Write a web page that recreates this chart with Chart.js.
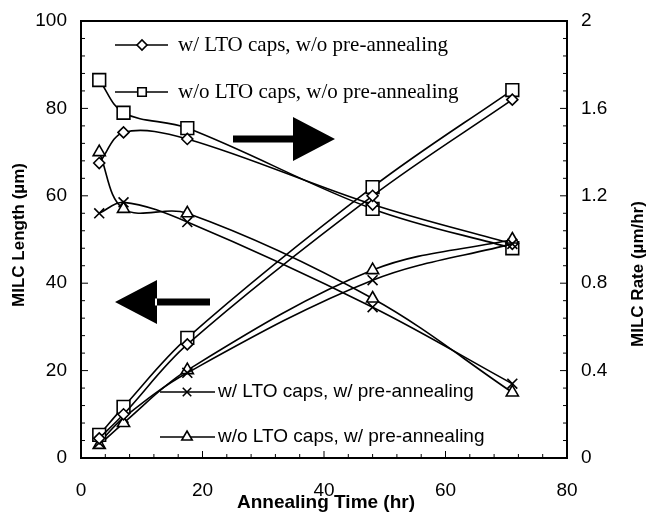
<!DOCTYPE html>
<html>
<head>
<meta charset="utf-8">
<script src="https://cdn.jsdelivr.net/npm/chart.js@4.4.1/dist/chart.umd.min.js"></script>
<style>
  body { margin: 0; background: #fff; }
  #wrap { width: 649px; height: 517px; }
</style>
</head>
<body>
<div id="wrap"><canvas id="milcChart" width="649" height="517"></canvas></div>
<script>
// annealing times (hr)
const hours = [3, 7, 17.5, 48, 71]

// MILC length (um), left axis
const lenLtoNoPre = [4.5, 10, 26, 60, 82]
const lenNoLtoNoPre = [5.3, 11.7, 27.5, 62, 84.2]
const lenLtoPre = [3.5, 9.2, 19.5, 40.7, 49]
const lenNoLtoPre = [3, 8, 20.1, 43, 50]

// MILC rate (um/hr), right axis
const rateLtoNoPre = [1.35, 1.49, 1.46, 1.16, 0.98]
const rateNoLtoNoPre = [1.73, 1.58, 1.51, 1.14, 0.96]
const rateLtoPre = [1.12, 1.17, 1.08, 0.69, 0.34]
const rateNoLtoPre = [1.40, 1.14, 1.12, 0.73, 0.30]

const seriesNames = [
    'w/ LTO caps, w/o pre-annealing',
    'w/o LTO caps, w/o pre-annealing',
    'w/ LTO caps, w/ pre-annealing',
    'w/o LTO caps, w/ pre-annealing'
]

const xTicks = [0, 20, 40, 60, 80]
const lenTicks = [0, 20, 40, 60, 80, 100]
const rateTicks = [0, 0.4, 0.8, 1.2, 1.6, 2]

const markers = [
    { pointStyle: 'rectRot', radius: 5.5 },
    { pointStyle: 'rect', radius: 9 },
    { pointStyle: 'crossRot', radius: 7 },
    { pointStyle: 'triangle', radius: 7 }
]

function toPoints(ys) {
    return hours.map((h, i) => ({ x: h, y: ys[i] }))
}

function makeSet(label, ys, axis, k) {
    return {
        label: label,
        data: toPoints(ys),
        yAxisID: axis,
        borderColor: '#000',
        borderWidth: 1.6,
        tension: 0.35,
        pointStyle: markers[k].pointStyle,
        pointRadius: markers[k].radius,
        pointBackgroundColor: '#fff',
        pointBorderColor: '#000',
        pointBorderWidth: 1.6,
        fill: false
    }
}

const datasets = [
    makeSet(seriesNames[0], lenLtoNoPre, 'yLen', 0),
    makeSet(seriesNames[1], lenNoLtoNoPre, 'yLen', 1),
    makeSet(seriesNames[2], lenLtoPre, 'yLen', 2),
    makeSet(seriesNames[3], lenNoLtoPre, 'yLen', 3),
    makeSet(seriesNames[0], rateLtoNoPre, 'yRate', 0),
    makeSet(seriesNames[1], rateNoLtoNoPre, 'yRate', 1),
    makeSet(seriesNames[2], rateLtoPre, 'yRate', 2),
    makeSet(seriesNames[3], rateNoLtoPre, 'yRate', 3)
]

const tickFont = { family: 'Liberation Sans, Arial', size: 19 }

function fixedTicks(list) {
    return (scale) => { scale.ticks = list.map(v => ({ value: v })) }
}

// fixed axis sizes so the plot box lands in the same place every time
function fitSide(width) {
    return (s) => {
        s.width = width
        s.paddingTop = 0
        s.paddingBottom = 0
    }
}

function fmt(v) {
    return String(Math.round(v * 10) / 10)
}

// frame, inward tick marks, axis titles, arrows and the in-plot legend
const decorations = {
    id: 'decorations',
    afterDraw(chart) {
        const ctx = chart.ctx
        const a = chart.chartArea
        const sx = chart.scales.x
        const sl = chart.scales.yLen
        const sr = chart.scales.yRate

        ctx.save()
        ctx.strokeStyle = '#000'
        ctx.lineWidth = 2
        ctx.strokeRect(a.left, a.top, a.right - a.left, a.bottom - a.top)

        ctx.lineWidth = 1
        ctx.beginPath()
        for (let v = 0; v <= 80; v += 4) {
            const px = sx.getPixelForValue(v)
            const len = v % 20 === 0 ? 7 : 4
            ctx.moveTo(px, a.bottom); ctx.lineTo(px, a.bottom - len)
        }
        for (let v = 0; v <= 100; v += 4) {
            const py = sl.getPixelForValue(v)
            const len = v % 20 === 0 ? 7 : 4
            ctx.moveTo(a.left, py); ctx.lineTo(a.left + len, py)
        }
        for (let i = 0; i <= 25; i++) {
            const py = sr.getPixelForValue(i * 0.08)
            const len = i % 5 === 0 ? 7 : 4
            ctx.moveTo(a.right, py); ctx.lineTo(a.right - len, py)
        }
        ctx.stroke()

        // axis titles
        ctx.fillStyle = '#000'
        ctx.textAlign = 'center'
        ctx.textBaseline = 'middle'
        ctx.font = 'bold 19px Liberation Sans, Arial'
        ctx.fillText('Annealing Time (hr)', 326, 503)
        ctx.font = 'bold 17px Liberation Sans, Arial'
        ctx.save()
        ctx.translate(19, 235)
        ctx.rotate(-Math.PI / 2)
        ctx.fillText('MILC Length (\u00b5m)', 0, 0)
        ctx.restore()
        ctx.save()
        ctx.translate(638, 274)
        ctx.rotate(-Math.PI / 2)
        ctx.fillText('MILC Rate (\u00b5m/hr)', 0, 0)
        ctx.restore()

        // arrows pointing to each curve family's axis
        ctx.beginPath()
        ctx.rect(233, 135.5, 62, 7)
        ctx.moveTo(293, 117); ctx.lineTo(335, 139); ctx.lineTo(293, 161); ctx.closePath()
        ctx.rect(155, 298.5, 55, 7)
        ctx.moveTo(157, 280); ctx.lineTo(115, 302); ctx.lineTo(157, 324); ctx.closePath()
        ctx.fill()

        // legend
        const rows = [
            { y: 45, x0: 115, x1: 168, xm: 142, tx: 178, font: '21px Liberation Serif, Times New Roman' },
            { y: 92, x0: 115, x1: 168, xm: 142, tx: 178, font: '21px Liberation Serif, Times New Roman' },
            { y: 392, x0: 160, x1: 215, xm: 187, tx: 218, font: '19px Liberation Sans, Arial' },
            { y: 437, x0: 160, x1: 215, xm: 187, tx: 218, font: '19px Liberation Sans, Arial' }
        ]
        const legendRadius = [5, 6, 6, 6]
        rows.forEach((r, k) => {
            ctx.strokeStyle = '#000'
            ctx.lineWidth = 1.6
            ctx.beginPath()
            ctx.moveTo(r.x0, r.y); ctx.lineTo(r.x1, r.y)
            ctx.stroke()
            ctx.fillStyle = '#fff'
            Chart.helpers.drawPoint(ctx, {
                pointStyle: markers[k].pointStyle,
                radius: legendRadius[k],
                rotation: 0,
                borderWidth: 1.6
            }, r.xm, r.y)
            ctx.fillStyle = '#000'
            ctx.font = r.font
            ctx.textAlign = 'left'
            ctx.textBaseline = 'middle'
            ctx.fillText(seriesNames[k], r.tx, r.y)
        })
        ctx.restore()
    }
}

new Chart(document.getElementById('milcChart'), {
    type: 'line',
    data: { datasets: datasets },
    options: {
        responsive: false,
        animation: false,
        layout: { padding: { top: 21, left: 0, right: 0, bottom: 0 } },
        plugins: {
            legend: { display: false },
            tooltip: { enabled: false }
        },
        scales: {
            x: {
                type: 'linear',
                min: 0,
                max: 80,
                afterBuildTicks: fixedTicks(xTicks),
                afterFit: (s) => { s.height = 59; s.paddingLeft = 0; s.paddingRight = 0 },
                grid: { display: false, drawTicks: false },
                border: { display: false },
                ticks: { font: tickFont, color: '#000', padding: 21 }
            },
            yLen: {
                type: 'linear',
                position: 'left',
                min: 0,
                max: 100,
                afterBuildTicks: fixedTicks(lenTicks),
                afterFit: fitSide(81),
                grid: { display: false, drawTicks: false },
                border: { display: false },
                ticks: { font: tickFont, color: '#000', padding: 14 }
            },
            yRate: {
                type: 'linear',
                position: 'right',
                min: 0,
                max: 2,
                afterBuildTicks: fixedTicks(rateTicks),
                afterFit: fitSide(82),
                grid: { display: false, drawTicks: false },
                border: { display: false },
                ticks: { font: tickFont, color: '#000', padding: 14, callback: (v) => fmt(v) }
            }
        }
    },
    plugins: [decorations]
})
</script>
</body>
</html>
